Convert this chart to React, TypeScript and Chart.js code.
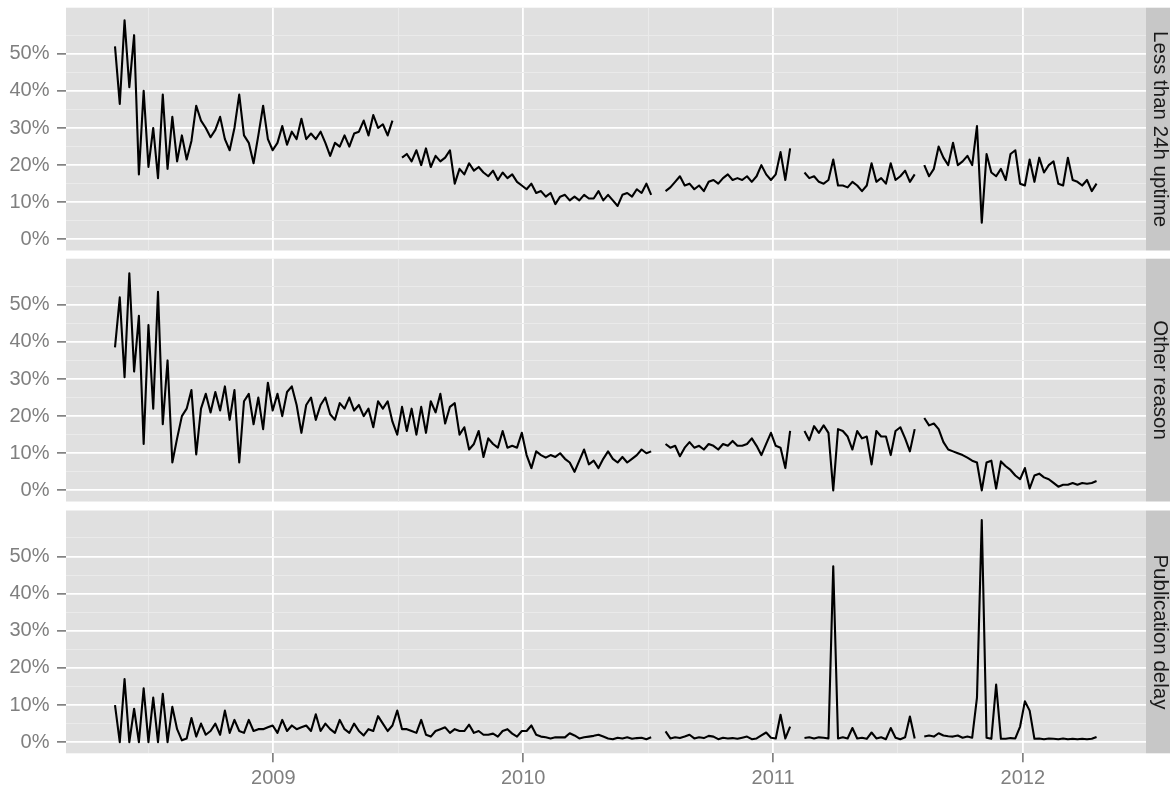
import React, { useEffect, useRef } from 'react';
import { Chart, registerables } from 'chart.js';

Chart.register(...registerables);

// ---------- data ----------
const START_DATE = '2008-05-14';
const STEP_DAYS = 7;
const YEAR_TICKS = [2009, 2010, 2011, 2012];
const YEAR_MINOR_TICKS = [2008.5, 2009.5, 2010.5, 2011.5];
const PCT_TICKS = [0, 10, 20, 30, 40, 50];
const PCT_MINOR_TICKS = [5, 15, 25, 35, 45, 55];
const FACET_LABELS = ['Less than 24h uptime', 'Other reason', 'Publication delay'];

const lessThan24hUptime = [
  52, 36.5, 59, 41, 55, 17.5, 40, 19.5, 30, 16.5,
  39, 19, 33, 21, 28, 21.5, 26.5, 36, 32, 30,
  27.5, 29.5, 33, 27, 24, 30, 39, 28, 26, 20.5,
  28, 36, 27, 24, 26, 30.5, 25.5, 29, 27, 32.5,
  27, 28.5, 27, 29, 26, 22.5, 26, 25, 28, 25,
  28.5, 29, 32, 28, 33.5, 30, 31, 28, 32, null,
  22, 23, 21, 24, 20, 24.5, 19.5, 22.5, 21, 22,
  24, 15, 19, 17.5, 20.5, 18.5, 19.5, 18, 17, 18.5,
  16, 18, 16.5, 17.5, 15.5, 14.5, 13.5, 15, 12.5, 13,
  11.5, 12.5, 9.5, 11.5, 12, 10.5, 11.5, 10.5, 12, 11,
  11, 13, 10.5, 12, 10.5, 9, 12, 12.5, 11.5, 13.5,
  12.5, 15, 12, null, null, 13, 14, 15.5, 17, 14.5,
  15, 13.5, 14.5, 13, 15.5, 16, 15, 16.5, 17.5, 16,
  16.5, 16, 17, 15.5, 17, 20, 17.5, 16, 17.5, 23.5,
  16, 24.5, null, null, 18, 16.5, 17, 15.5, 15, 16,
  21.5, 14.5, 14.5, 14, 15.5, 14.5, 13, 14.5, 20.5, 15.5,
  16.5, 15, 20.5, 16, 17, 18.5, 15.5, 17.5, null, 20,
  17, 19, 25, 22, 20, 26, 20, 21, 22.5, 20,
  30.5, 4.5, 23, 18, 17, 19, 16, 23, 24, 15,
  14.5, 21.5, 15.5, 22, 18, 20, 21, 15, 14.5, 22,
  16, 15.5, 14.5, 16, 13, 15,
];

const otherReason = [
  38.5, 52, 30.5, 58.5, 32, 47, 12.5, 44.5, 22, 53.5,
  17.8, 35, 7.5, 14, 20, 22, 27, 9.7, 22, 26,
  21, 26.5, 21.5, 28, 19, 27, 7.5, 24, 26, 17.8,
  25, 16.5, 29, 21.5, 26, 20, 26.5, 28, 23, 15.5,
  23, 25, 19, 23, 25, 20.5, 19, 23.5, 22, 25,
  21.5, 23, 20, 22, 17, 24, 22, 24, 18.5, 15,
  22.5, 16, 22, 15, 22.5, 15.5, 24, 21, 26, 18,
  22.5, 23.5, 15, 17, 11, 12.5, 16, 9, 14, 12.5,
  11.5, 16, 11.5, 12, 11.5, 15.5, 9.5, 6, 10.5, 9.5,
  8.8, 9.5, 9, 10, 8.5, 7.5, 5, 8, 11, 7,
  8, 6, 8.5, 10.5, 8.5, 7.5, 9, 7.5, 8.5, 9.5,
  11, 10, 10.5, null, null, 12.5, 11.5, 12, 9.2, 11.5,
  13, 11.5, 12, 11, 12.5, 12, 11, 12.5, 12, 13.3,
  12, 12, 12.5, 14, 12, 9.5, 12.5, 15.5, 12, 11.5,
  6, 16, null, null, 16, 13.5, 17.3, 15.5, 17.5, 15.5,
  0, 16.5, 16, 14.5, 11, 16, 14, 14.5, 7, 16,
  14.5, 14.5, 9.5, 16, 17, 14, 10.5, 16.5, null, 19.5,
  17.5, 18, 16.5, 13, 11, 10.5, 10, 9.5, 8.8, 8,
  7.5, 0, 7.5, 8, 0.5, 7.8, 6.5, 5.5, 4, 3,
  6, 0.5, 4, 4.5, 3.5, 3, 2, 1, 1.5, 1.5,
  2, 1.5, 2, 1.8, 2, 2.5,
];

const publicationDelay = [
  10, 0, 17, 0, 9, 0, 14.5, 0, 12, 0,
  13, 0, 9.5, 3.5, 0.5, 1, 6.5, 1.5, 5, 2,
  3, 5, 2, 8.5, 2.5, 6, 3, 2.5, 6, 3,
  3.5, 3.5, 4, 4.5, 2.5, 6, 3, 4.5, 3.5, 4,
  4.5, 3, 7.5, 3, 5, 3.5, 2.5, 6, 3.5, 2.5,
  5, 3, 1.8, 3.5, 3, 7, 5, 3, 4.5, 8.5,
  3.5, 3.5, 3, 2.5, 6, 2, 1.5, 3, 3.5, 4,
  2.5, 3.5, 3, 3, 4.7, 2.5, 3, 2, 2, 2.3,
  1.5, 3, 3.5, 2.3, 1.5, 3, 3, 4.5, 2, 1.5,
  1.3, 1, 1.3, 1.3, 1.3, 2.4, 1.8, 1, 1.3, 1.5,
  1.7, 2, 1.5, 1, 0.8, 1.2, 1, 1.3, 0.9, 1.1,
  1.2, 0.8, 1.3, null, null, 2.9, 1, 1.3, 1.1, 1.5,
  2, 1, 1.3, 1.1, 1.7, 1.5, 0.8, 1.2, 1, 1.1,
  0.9, 1.2, 1.5, 0.8, 1, 1.8, 2.6, 1.2, 1, 7.4,
  1, 4.2, null, null, 1.1, 1.3, 1, 1.3, 1.2, 1,
  47.4, 1, 1.3, 1, 3.8, 1, 1.2, 0.9, 2.6, 1,
  1.3, 0.8, 3.8, 1.2, 0.8, 1.3, 6.9, 1, null, 1.5,
  1.8, 1.5, 2.4, 1.8, 1.6, 1.5, 1.8, 1.2, 1.5, 1.2,
  12, 59.8, 1.2, 0.9, 15.5, 0.9, 0.9, 1.1, 1, 4.2,
  11, 8.5, 0.9, 1, 0.8, 1, 0.9, 0.8, 1, 0.8,
  0.9, 0.8, 0.9, 0.8, 0.9, 1.4,
];

const SERIES = [lessThan24hUptime, otherReason, publicationDelay];

// ---------- styling ----------
const FONT = '"Liberation Sans", Arial, Helvetica, sans-serif';
const PANEL_BG = '#E0E0E0';
const STRIP_BG = '#C7C7C7';
const MINOR_GRID = '#EAEAEA';
const AXIS_TEXT = '#7F7F7F';
const TICK_COLOR = '#5A5A5A';

const X_MIN = 2008.17;
const X_MAX = 2012.493;
const Y_MIN = -3.0;
const Y_MAX = 62.4;

const W = 1170;
const PANELS = [
  { top: 0, height: 255, padTop: 7.7, padBottom: 4.5, xHeight: 0 },
  { top: 255, height: 251, padTop: 3.7, padBottom: 4.5, xHeight: 0 },
  { top: 506, height: 284, padTop: 4.5, padBottom: 0, xHeight: 36.7 },
];

function decimalYear(ms: number) {
  const d = new Date(ms);
  const y = d.getUTCFullYear();
  const s = Date.UTC(y, 0, 1);
  const e = Date.UTC(y + 1, 0, 1);
  return y + (ms - s) / (e - s);
}

const startMs = Date.parse(START_DATE + 'T00:00:00Z');
const xYears = lessThan24hUptime.map((_, i) => decimalYear(startMs + i * STEP_DAYS * 86400000));

const isMajorY = (v: number) => PCT_TICKS.includes(v);
const isMajorX = (v: number) => YEAR_TICKS.includes(v);

const facetPlugin = {
  id: 'facet',
  beforeDraw(chart: any) {
    const { ctx, chartArea: a } = chart;
    ctx.save();
    ctx.fillStyle = PANEL_BG;
    ctx.fillRect(a.left, a.top, a.right - a.left, a.bottom - a.top);
    ctx.restore();
  },
  afterDraw(chart: any, _args: any, opts: any) {
    const { ctx, chartArea: a } = chart;
    ctx.save();
    ctx.fillStyle = STRIP_BG;
    ctx.fillRect(a.right, a.top, chart.width - a.right, a.bottom - a.top);
    ctx.translate(a.right + 8, (a.top + a.bottom) / 2);
    ctx.rotate(Math.PI / 2);
    ctx.font = `20.5px ${FONT}`;
    ctx.fillStyle = '#1A1A1A';
    ctx.textAlign = 'center';
    ctx.textBaseline = 'alphabetic';
    ctx.fillText(opts.label, 0, 0);
    ctx.restore();
  },
};

function makeConfig(idx: number): any {
  const p = PANELS[idx];
  const showX = p.xHeight > 0;
  const values = SERIES[idx];
  return {
    type: 'line',
    data: {
      datasets: [
        {
          data: values.map((v, i) => ({ x: xYears[i], y: v })),
          borderColor: '#000000',
          borderWidth: 2.1,
          borderJoinStyle: 'round',
          pointRadius: 0,
          tension: 0,
          spanGaps: false,
          fill: false,
        },
      ],
    },
    options: {
      animation: false,
      responsive: false,
      events: [],
      layout: { padding: { left: 0, right: 24, top: p.padTop, bottom: p.padBottom } },
      plugins: {
        legend: { display: false },
        tooltip: { enabled: false },
        facet: { label: FACET_LABELS[idx] },
      },
      scales: {
        x: {
          type: 'linear',
          min: X_MIN,
          max: X_MAX,
          afterBuildTicks: (s: any) => {
            s.ticks = [...YEAR_MINOR_TICKS, ...YEAR_TICKS].sort((a, b) => a - b).map((v) => ({ value: v }));
          },
          afterFit: (s: any) => {
            s.height = p.xHeight;
            s.paddingLeft = 0;
            s.paddingRight = 0;
          },
          border: { display: false },
          grid: {
            drawTicks: showX,
            tickLength: 9,
            color: (c: any) => (c.tick && isMajorX(c.tick.value) ? '#FFFFFF' : MINOR_GRID),
            lineWidth: (c: any) => (c.tick && isMajorX(c.tick.value) ? 1.8 : 1),
            tickColor: (c: any) => (c.tick && isMajorX(c.tick.value) ? TICK_COLOR : 'rgba(0,0,0,0)'),
            tickWidth: 1.3,
          },
          ticks: {
            display: showX,
            autoSkip: false,
            maxRotation: 0,
            minRotation: 0,
            padding: 4,
            color: AXIS_TEXT,
            font: { family: FONT, size: 20 },
            callback: (v: any) => (isMajorX(v) ? String(v) : ''),
          },
        },
        y: {
          type: 'linear',
          min: Y_MIN,
          max: Y_MAX,
          afterBuildTicks: (s: any) => {
            s.ticks = [...PCT_TICKS, ...PCT_MINOR_TICKS].sort((a, b) => a - b).map((v) => ({ value: v }));
          },
          afterFit: (s: any) => {
            s.width = 66;
            s.paddingTop = 0;
            s.paddingBottom = 0;
          },
          border: { display: false },
          grid: {
            drawTicks: true,
            tickLength: 9,
            color: (c: any) => (c.tick && isMajorY(c.tick.value) ? '#FFFFFF' : MINOR_GRID),
            lineWidth: (c: any) => (c.tick && isMajorY(c.tick.value) ? 1.8 : 1),
            tickColor: (c: any) => (c.tick && isMajorY(c.tick.value) ? TICK_COLOR : 'rgba(0,0,0,0)'),
            tickWidth: 1.3,
          },
          ticks: {
            autoSkip: false,
            padding: 7.5,
            color: AXIS_TEXT,
            font: { family: FONT, size: 20 },
            callback: (v: any) => (isMajorY(v) ? `${v}%` : ''),
          },
        },
      },
    },
    plugins: [facetPlugin],
  };
}

export default function App() {
  const r0 = useRef<HTMLCanvasElement>(null);
  const r1 = useRef<HTMLCanvasElement>(null);
  const r2 = useRef<HTMLCanvasElement>(null);

  useEffect(() => {
    const refs = [r0, r1, r2];
    const charts = refs.map((r, i) => new Chart(r.current as HTMLCanvasElement, makeConfig(i)));
    return () => charts.forEach((c) => c.destroy());
  }, []);

  const refs = [r0, r1, r2];
  return (
    <div style={{ position: 'fixed', left: 0, top: 0, width: W, height: 790, background: '#FFFFFF' }}>
      {PANELS.map((p, i) => (
        <canvas
          key={i}
          ref={refs[i]}
          width={W}
          height={p.height}
          style={{ position: 'absolute', left: 0, top: p.top, width: W, height: p.height }}
        />
      ))}
    </div>
  );
}
